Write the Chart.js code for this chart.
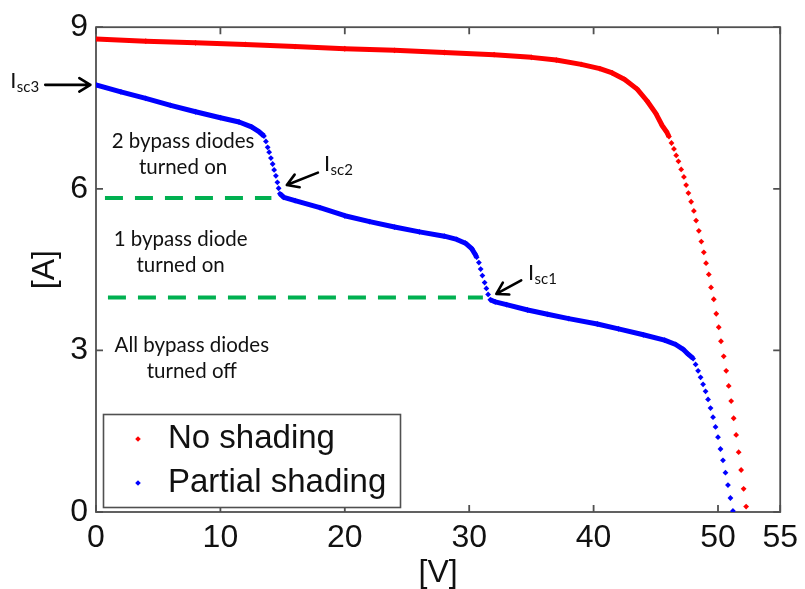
<!DOCTYPE html>
<html>
<head>
<meta charset="utf-8">
<script src="https://cdn.jsdelivr.net/npm/chart.js@4.4.1/dist/chart.umd.min.js"></script>
<style>
  html, body { margin: 0; padding: 0; background: #fff; }
  canvas { display: block; }
</style>
</head>
<body>
<canvas id="iv" width="805" height="589"></canvas>
<script>
// ===== PV module I-V curves, with and without partial shading =====

// No shading curve [V] / [A]
const noShadingV = [0, 4, 8, 12, 16, 20, 24, 28, 32, 35, 37, 39, 40.5, 41.5, 42.5, 43.5, 44.3, 45.0,
    45.52, 45.86, 46.06, 46.26, 46.46, 46.64, 46.82, 47.04, 47.26, 47.44, 47.62, 47.84, 48.06, 48.24,
    48.46, 48.66, 48.86, 49.04, 49.26, 49.44, 49.66, 49.86, 50.06, 50.24, 50.46, 50.66, 50.86, 51.06,
    51.26, 51.46, 51.66, 51.86, 52.06, 52.26];
const noShadingI = [8.78, 8.74, 8.71, 8.68, 8.64, 8.60, 8.57, 8.53, 8.49, 8.44, 8.39, 8.31, 8.23, 8.15, 8.03, 7.85, 7.63, 7.40,
    7.17, 7.06, 6.97, 6.85, 6.74, 6.62, 6.51, 6.36, 6.22, 6.07, 5.92, 5.76, 5.59, 5.41,
    5.22, 5.02, 4.82, 4.62, 4.41, 4.17, 3.95, 3.68, 3.43, 3.17, 2.89, 2.62, 2.34, 2.06,
    1.74, 1.43, 1.11, 0.78, 0.43, 0.10];

// Partial shading curve [V] / [A]
const partialV = [0, 2, 4, 6, 8, 10, 11.5, 12.5, 13.1, 13.5,
    13.66, 13.8, 13.92, 14.06, 14.2, 14.32, 14.46, 14.58, 14.68, 14.78,
    15.1, 16, 18, 20, 22, 24, 26, 28, 29, 29.7,
    30.2, 30.44, 30.6, 30.78, 30.92, 31.06, 31.24, 31.38, 31.52, 31.7,
    32.1, 33, 34.7, 36.3, 38, 40.3, 42, 44, 45.7, 46.6,
    47.2, 47.6, 48.0, 48.2, 48.4, 48.6, 48.8, 49.0, 49.2, 49.4,
    49.6, 49.8, 50.0, 50.2, 50.4, 50.6, 50.8, 51.0, 51.2];
const partialI = [7.93, 7.80, 7.68, 7.55, 7.43, 7.32, 7.24, 7.15, 7.06, 6.98,
    6.88, 6.77, 6.68, 6.57, 6.46, 6.35, 6.24, 6.12, 6.01, 5.91,
    5.84, 5.78, 5.65, 5.50, 5.39, 5.29, 5.20, 5.12, 5.06, 4.99,
    4.89, 4.80, 4.73, 4.63, 4.51, 4.39, 4.26, 4.15, 4.04, 3.94,
    3.90, 3.85, 3.75, 3.67, 3.59, 3.49, 3.40, 3.29, 3.19, 3.11,
    3.02, 2.93, 2.85, 2.74, 2.62, 2.50, 2.37, 2.24, 2.09, 1.93,
    1.76, 1.58, 1.39, 1.17, 0.96, 0.73, 0.50, 0.26, 0.02];

// Bypass diode levels (green dashed)
const bypass2V = [0.72, 14.1];
const bypass2I = [5.83, 5.83];
const bypass1V = [0.96, 31.1];
const bypass1I = [3.98, 3.98];

// Axis ticks
const voltageTicks = [0, 10, 20, 30, 40, 50, 55];
const currentTicks = [0, 3, 6, 9];

const RED = '#ff0000';
const BLUE = '#0000ff';
const GREEN = '#00b050';
const TEXT = '#111111';
const FRAME = '#505050';

const toPoints = (vs, is) => vs.map((v, k) => ({ x: v, y: is[k] }));

/** Hide the connecting line where the curve is steep, so only the markers show */
function bandColor(color) {
    return c => {
        const dx = Math.abs(c.p1.x - c.p0.x);
        const dy = Math.abs(c.p1.y - c.p0.y);
        return dy > 2 * dx ? 'transparent' : color;
    };
}

function curveDataset(label, vs, is, color) {
    return {
        label,
        data: toPoints(vs, is),
        showLine: true,
        borderColor: color,
        borderWidth: 5,
        borderJoinStyle: 'round',
        segment: { borderColor: bandColor(color) },
        pointStyle: 'rectRot',
        pointRadius: 2.9,
        pointBorderWidth: 0,
        pointBackgroundColor: color,
        inLegend: true,
    };
}

function dashedDataset(vs, is) {
    return {
        label: '',
        data: toPoints(vs, is),
        showLine: true,
        borderColor: GREEN,
        borderWidth: 4,
        borderDash: [18, 12],
        pointRadius: 0,
    };
}

// Text notes between the dashed levels (anchored in data units)
const regionNotes = [
    { lines: ['2 bypass diodes', 'turned on'], v: 7.0, i: [6.88, 6.40] },
    { lines: ['1 bypass diode', 'turned on'], v: 6.8, i: [5.06, 4.57] },
    { lines: ['All bypass diodes', 'turned off'], v: 7.7, i: [3.09, 2.61] },
];

// Isc arrows: tail -> head, and label baseline position
const iscMarks = [
    { sub: 'sc3', from: [-4.08, 7.93], to: [-0.45, 7.93], at: [-6.9, 7.87] },
    { sub: 'sc2', from: [17.84, 6.30], to: [15.34, 6.07], at: [18.32, 6.33] },
    { sub: 'sc1', from: [34.18, 4.30], to: [32.18, 4.05], at: [34.72, 4.31] },
];

function drawArrow(ctx, x0, y0, x1, y1) {
    const ang = Math.atan2(y1 - y0, x1 - x0);
    const head = 13;
    const spread = 0.55;
    ctx.beginPath();
    ctx.moveTo(x0, y0);
    ctx.lineTo(x1, y1);
    ctx.moveTo(x1 - head * Math.cos(ang - spread), y1 - head * Math.sin(ang - spread));
    ctx.lineTo(x1, y1);
    ctx.lineTo(x1 - head * Math.cos(ang + spread), y1 - head * Math.sin(ang + spread));
    ctx.stroke();
}

/** Box frame with inward tick marks on all four sides (MATLAB style) */
const frameTicks = {
    id: 'frameTicks',
    beforeDatasetsDraw(chart) {
        const { ctx, chartArea: a, scales: { x, y } } = chart;
        const len = 7;
        ctx.save();
        ctx.strokeStyle = FRAME;
        ctx.lineWidth = 1.8;
        ctx.strokeRect(a.left, a.top, a.right - a.left, a.bottom - a.top);
        ctx.beginPath();
        x.ticks.forEach(t => {
            const px = x.getPixelForValue(t.value);
            ctx.moveTo(px, a.bottom); ctx.lineTo(px, a.bottom - len);
            ctx.moveTo(px, a.top); ctx.lineTo(px, a.top + len);
        });
        y.ticks.forEach(t => {
            const py = y.getPixelForValue(t.value);
            ctx.moveTo(a.left, py); ctx.lineTo(a.left + len, py);
            ctx.moveTo(a.right, py); ctx.lineTo(a.right - len, py);
        });
        ctx.stroke();
        ctx.restore();
    },
};

/** Notes and Isc arrows */
const annotations = {
    id: 'annotations',
    afterDatasetsDraw(chart) {
        const { ctx, scales: { x, y } } = chart;
        ctx.save();
        ctx.fillStyle = TEXT;
        ctx.textAlign = 'center';
        ctx.textBaseline = 'middle';
        ctx.font = '20.5px Lato';
        regionNotes.forEach(n => {
            n.lines.forEach((line, k) => {
                ctx.fillText(line, x.getPixelForValue(n.v), y.getPixelForValue(n.i[k]));
            });
        });

        ctx.strokeStyle = '#000';
        ctx.lineWidth = 2.6;
        ctx.lineCap = 'round';
        ctx.lineJoin = 'round';
        iscMarks.forEach(m => {
            drawArrow(ctx,
                x.getPixelForValue(m.from[0]), y.getPixelForValue(m.from[1]),
                x.getPixelForValue(m.to[0]), y.getPixelForValue(m.to[1]));
            const lx = x.getPixelForValue(m.at[0]);
            const ly = y.getPixelForValue(m.at[1]);
            ctx.textAlign = 'left';
            ctx.textBaseline = 'alphabetic';
            ctx.font = '22px Lato';
            ctx.fillText('I', lx, ly);
            const w = ctx.measureText('I').width;
            ctx.font = '15px Lato';
            ctx.fillText(m.sub, lx + w + 0.5, ly + 4);
        });
        ctx.restore();
    },
};

/** Boxed legend in the lower-left corner of the plot */
const boxLegend = {
    id: 'boxLegend',
    afterDatasetsDraw(chart) {
        const ctx = chart.ctx;
        const box = { left: 103, top: 414, width: 297, height: 93 };
        ctx.save();
        ctx.fillStyle = '#fff';
        ctx.fillRect(box.left, box.top, box.width, box.height);
        ctx.strokeStyle = FRAME;
        ctx.lineWidth = 1.6;
        ctx.strokeRect(box.left + 0.5, box.top + 0.5, box.width, box.height);
        ctx.font = '33px "Liberation Sans"';
        ctx.textAlign = 'left';
        ctx.textBaseline = 'middle';
        chart.data.datasets.filter(d => d.inLegend).forEach((d, k) => {
            const cy = 439 + k * 44;
            const cx = 138;
            const r = 2.8;
            ctx.fillStyle = d.pointBackgroundColor;
            ctx.beginPath();
            ctx.moveTo(cx, cy - r); ctx.lineTo(cx + r, cy);
            ctx.lineTo(cx, cy + r); ctx.lineTo(cx - r, cy);
            ctx.closePath();
            ctx.fill();
            ctx.fillStyle = TEXT;
            ctx.fillText(d.label, 168, cy);
        });
        ctx.restore();
    },
};

const tickFont = { family: '"Liberation Sans", Arial, sans-serif', size: 32, lineHeight: 1.2 };
const titleFont = { family: '"Liberation Sans", Arial, sans-serif', size: 32, lineHeight: 1 };

new Chart(document.getElementById('iv'), {
    type: 'scatter',
    data: {
        datasets: [
            curveDataset('No shading', noShadingV, noShadingI, RED),
            curveDataset('Partial shading', partialV, partialI, BLUE),
            dashedDataset(bypass2V, bypass2I),
            dashedDataset(bypass1V, bypass1I),
        ],
    },
    options: {
        responsive: false,
        animation: false,
        events: [],
        layout: { padding: { top: 26, right: 21, bottom: 0, left: 0 } },
        plugins: {
            legend: { display: false },
            tooltip: { enabled: false },
        },
        scales: {
            x: {
                type: 'linear',
                min: 0,
                max: 55,
                afterBuildTicks: s => { s.ticks = voltageTicks.map(v => ({ value: v })); },
                afterFit: s => { s.height = 77; },
                grid: { display: false, drawTicks: false },
                border: { display: false },
                ticks: { autoSkip: false, maxRotation: 0, padding: 7, color: TEXT, font: tickFont },
                title: { display: true, text: '[V]', color: TEXT, font: titleFont, padding: { top: 0, bottom: 0 } },
            },
            y: {
                type: 'linear',
                min: 0,
                max: 9,
                afterBuildTicks: s => { s.ticks = currentTicks.map(v => ({ value: v })); },
                afterFit: s => { s.width = 96; },
                grid: { display: false, drawTicks: false },
                border: { display: false },
                ticks: { padding: 8, color: TEXT, font: tickFont },
                title: { display: true, text: '[A]', color: TEXT, font: titleFont, padding: { top: 29, bottom: 0 } },
            },
        },
    },
    plugins: [frameTicks, annotations, boxLegend],
});
</script>
</body>
</html>
